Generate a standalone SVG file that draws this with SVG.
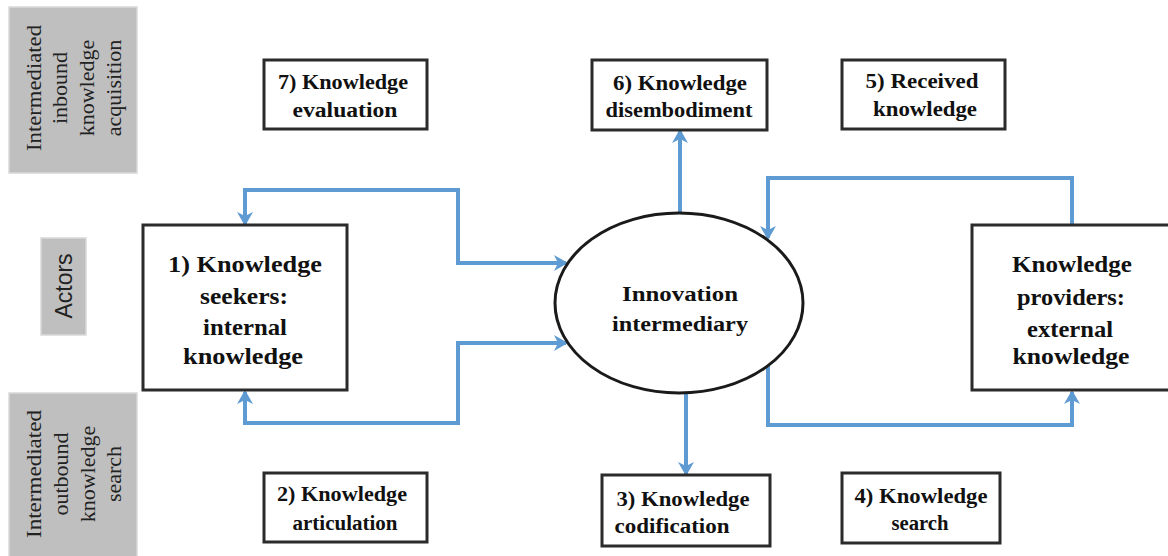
<svg xmlns="http://www.w3.org/2000/svg" width="1168" height="556" viewBox="0 0 1168 556">
  <style>
    .band { fill: #BFBFBF; stroke: #D9D9D9; stroke-width: 1.5; }
    .band-txt { font-family: "Liberation Serif", "DejaVu Serif", "Times New Roman", serif; font-size: 22px; fill: #222; text-anchor: middle; }
    .band-sans { font-family: "Liberation Sans", Arial, sans-serif; font-size: 23px; fill: #222; text-anchor: middle; }
    .box { fill: #FFFFFF; stroke: #2B2B2B; stroke-width: 3; }
    .lbl { font-family: "Liberation Serif", "DejaVu Serif", "Times New Roman", serif; font-weight: bold; font-size: 20px; fill: #111; text-anchor: middle; }
    .big { font-family: "Liberation Serif", "DejaVu Serif", "Times New Roman", serif; font-weight: bold; font-size: 23px; fill: #111; text-anchor: middle; }
    .link { fill: none; stroke: #5F9BD3; stroke-width: 4; stroke-linejoin: miter; }
  </style>
  <defs>
    <marker id="arrow" viewBox="0 0 14 16" refX="12" refY="8" markerWidth="14" markerHeight="16" markerUnits="userSpaceOnUse" orient="auto-start-reverse">
      <path d="M0,0 L14,8 L0,16 L4,8 Z" fill="#5F9BD3"/>
    </marker>
  </defs>

  <rect width="1168" height="556" fill="#FFFFFF"/>

  <!-- side bands -->
  <g id="band-inbound">
    <rect class="band" x="9" y="7" width="128" height="166"/>
    <g transform="translate(0,88)">
      <text class="band-txt" transform="translate(41,0) rotate(-90)" textLength="126" lengthAdjust="spacingAndGlyphs">Intermediated</text>
      <text class="band-txt" transform="translate(67,0) rotate(-90)">inbound</text>
      <text class="band-txt" transform="translate(94,0) rotate(-90)">knowledge</text>
      <text class="band-txt" transform="translate(121,0) rotate(-90)">acquisition</text>
    </g>
  </g>
  <g id="band-actors">
    <rect class="band" x="41" y="238" width="45" height="97"/>
    <text class="band-sans" transform="translate(72,286) rotate(-90)">Actors</text>
  </g>
  <g id="band-outbound">
    <rect class="band" x="9" y="393" width="128" height="170"/>
    <g transform="translate(0,474)">
      <text class="band-txt" transform="translate(41,0) rotate(-90)" textLength="128" lengthAdjust="spacingAndGlyphs">Intermediated</text>
      <text class="band-txt" transform="translate(68,0) rotate(-90)">outbound</text>
      <text class="band-txt" transform="translate(95,0) rotate(-90)">knowledge</text>
      <text class="band-txt" transform="translate(121,0) rotate(-90)">search</text>
    </g>
  </g>

  <!-- connectors -->
  <g id="connectors">
    <path class="link" d="M566,263 H458 V190 H245 V224" marker-start="url(#arrow)" marker-end="url(#arrow)"/>
    <path class="link" d="M245,392 V423 H458 V343 H566" marker-start="url(#arrow)" marker-end="url(#arrow)"/>
    <path class="link" d="M680,213 V131" marker-end="url(#arrow)"/>
    <path class="link" d="M686,393 V474" marker-end="url(#arrow)"/>
    <path class="link" d="M1072,225 V178 H768 V238" marker-end="url(#arrow)"/>
    <path class="link" d="M768,366 V425 H1072 V392" marker-end="url(#arrow)"/>
  </g>

  <!-- top row -->
  <g id="n7">
    <rect class="box" x="264" y="60" width="163" height="69"/>
    <text class="lbl" x="343" y="89" textLength="130" lengthAdjust="spacingAndGlyphs">7) Knowledge</text>
    <text class="lbl" x="345" y="117" textLength="105" lengthAdjust="spacingAndGlyphs">evaluation</text>
  </g>
  <g id="n6">
    <rect class="box" x="592" y="60" width="175" height="70"/>
    <text class="lbl" x="680" y="90" textLength="134" lengthAdjust="spacingAndGlyphs">6) Knowledge</text>
    <text class="lbl" x="679" y="117" textLength="147" lengthAdjust="spacingAndGlyphs">disembodiment</text>
  </g>
  <g id="n5">
    <rect class="box" x="842" y="60" width="163" height="69"/>
    <text class="lbl" x="922" y="88" textLength="113" lengthAdjust="spacingAndGlyphs">5) Received</text>
    <text class="lbl" x="925" y="116" textLength="104" lengthAdjust="spacingAndGlyphs">knowledge</text>
  </g>

  <!-- actors row -->
  <g id="n1">
    <rect class="box" x="143" y="225" width="204" height="165"/>
    <text class="big" x="245" y="272" textLength="154" lengthAdjust="spacingAndGlyphs">1) Knowledge</text>
    <text class="big" x="244" y="304" textLength="88" lengthAdjust="spacingAndGlyphs">seekers:</text>
    <text class="big" x="245" y="335" textLength="84" lengthAdjust="spacingAndGlyphs">internal</text>
    <text class="big" x="243" y="364" textLength="120" lengthAdjust="spacingAndGlyphs">knowledge</text>
  </g>
  <g id="intermediary">
    <ellipse cx="679" cy="303" rx="124" ry="90" fill="#FFFFFF" stroke="#1A1A1A" stroke-width="3"/>
    <text class="lbl" x="680" y="301" font-size="22" textLength="116" lengthAdjust="spacingAndGlyphs">Innovation</text>
    <text class="lbl" x="680" y="331" font-size="22" textLength="136" lengthAdjust="spacingAndGlyphs">intermediary</text>
  </g>
  <g id="providers">
    <rect class="box" x="972" y="225" width="210" height="165"/>
    <text class="big" x="1072" y="272" textLength="120" lengthAdjust="spacingAndGlyphs">Knowledge</text>
    <text class="big" x="1071" y="305" textLength="108" lengthAdjust="spacingAndGlyphs">providers:</text>
    <text class="big" x="1070" y="337" textLength="86" lengthAdjust="spacingAndGlyphs">external</text>
    <text class="big" x="1071" y="364" textLength="117" lengthAdjust="spacingAndGlyphs">knowledge</text>
  </g>

  <!-- bottom row -->
  <g id="n2">
    <rect class="box" x="264" y="473" width="163" height="69"/>
    <text class="lbl" x="342" y="501" textLength="130" lengthAdjust="spacingAndGlyphs">2) Knowledge</text>
    <text class="lbl" x="345" y="530" textLength="105" lengthAdjust="spacingAndGlyphs">articulation</text>
  </g>
  <g id="n3">
    <rect class="box" x="602" y="475" width="168" height="71"/>
    <text class="lbl" x="683" y="506" textLength="133" lengthAdjust="spacingAndGlyphs">3) Knowledge</text>
    <text class="lbl" x="672" y="533" textLength="115" lengthAdjust="spacingAndGlyphs">codification</text>
  </g>
  <g id="n4">
    <rect class="box" x="842" y="473" width="158" height="70"/>
    <text class="lbl" x="921" y="503" textLength="133" lengthAdjust="spacingAndGlyphs">4) Knowledge</text>
    <text class="lbl" x="920" y="530" textLength="57" lengthAdjust="spacingAndGlyphs">search</text>
  </g>
</svg>
